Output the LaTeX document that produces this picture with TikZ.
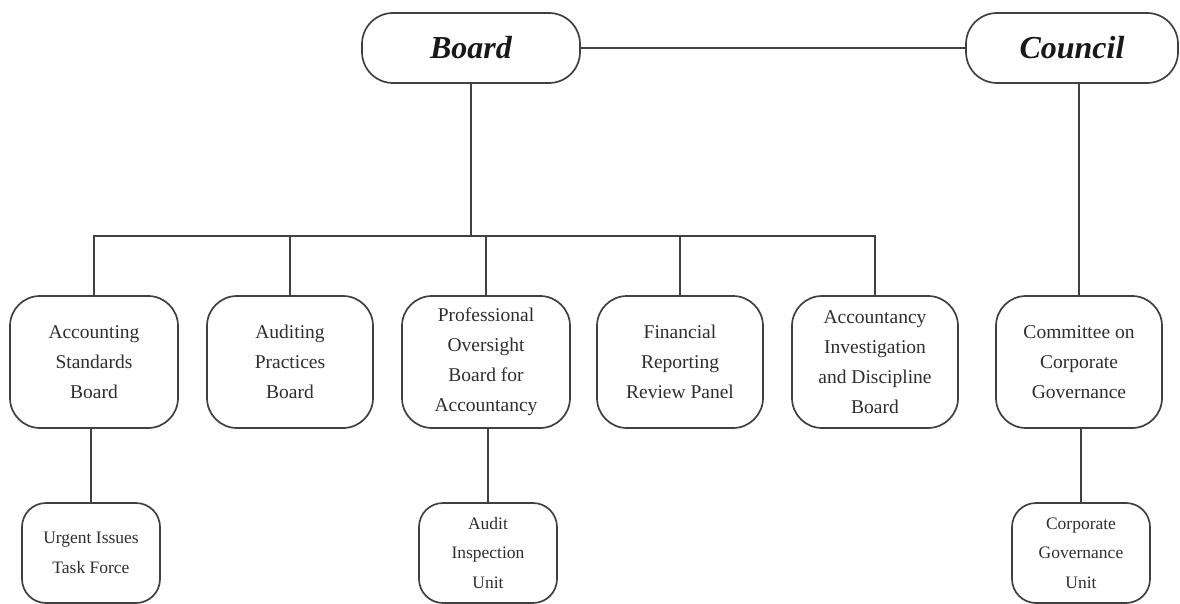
\documentclass[tikz,border=0pt]{standalone}
\usepackage{fontspec}
\setmainfont{Liberation Serif}
\begin{document}
\begin{tikzpicture}[x=1pt,y=-1pt,
  conn/.style={draw=black!75, line width=1.7pt},
  topbox/.style={draw=black!75, line width=1.7pt, rounded corners=31pt, minimum width=218pt, minimum height=70pt, inner sep=0pt, font=\fontsize{32}{36}\selectfont\bfseries\itshape, text=black!90},
  midbox/.style={draw=black!75, line width=1.7pt, rounded corners=30pt, minimum width=166pt, minimum height=132pt, inner sep=0pt, align=center, font=\fontsize{19.5}{30}\selectfont, text=black!82},
  lowbox/.style={draw=black!75, line width=1.7pt, rounded corners=24pt, minimum width=138pt, minimum height=100pt, inner sep=0pt, align=center, font=\fontsize{17.5}{29.5}\selectfont, text=black!82}
]
\useasboundingbox (0,0) rectangle (1180,604);
% top level
\node[topbox] (board) at (471,48) {Board};
\node[topbox, minimum width=212pt] (council) at (1072,48) {Council};
% second row
\node[midbox, minimum width=168pt] (asb) at (94,362) {Accounting\\Standards\\Board};
\node[midbox] (apb) at (290,362) {Auditing\\Practices\\Board};
\node[midbox, minimum width=168pt] (pob) at (486,362) {Professional\\Oversight\\Board for\\Accountancy};
\node[midbox] (frrp) at (680,362) {Financial\\Reporting\\Review Panel};
\node[midbox] (aidb) at (875,362) {Accountancy\\Investigation\\and Discipline\\Board};
\node[midbox] (ccg) at (1079,362) {Committee on\\Corporate\\Governance};
% third row
\node[lowbox] (uitf) at (91,553) {Urgent Issues\\Task Force};
\node[lowbox] (aiu) at (488,553) {Audit\\Inspection\\Unit};
\node[lowbox] (cgu) at (1081,553) {Corporate\\Governance\\Unit};
% connectors
\coordinate (bus) at (0,236);
\draw[conn] (board.east) -- (board.east -| council.west);
\draw[conn] (board.south) -- (board.south |- bus);
\draw[conn] (asb.north) -- (asb.north |- bus) -- (aidb.north |- bus) -- (aidb.north);
\draw[conn] (apb.north) -- (apb.north |- bus);
\draw[conn] (pob.north) -- (pob.north |- bus);
\draw[conn] (frrp.north) -- (frrp.north |- bus);
\draw[conn] (ccg.north) -- (ccg.north |- council.south);
\draw[conn] (uitf.north) -- (uitf.north |- asb.south);
\draw[conn] (aiu.north) -- (aiu.north |- pob.south);
\draw[conn] (cgu.north) -- (cgu.north |- ccg.south);
\end{tikzpicture}
\end{document}
